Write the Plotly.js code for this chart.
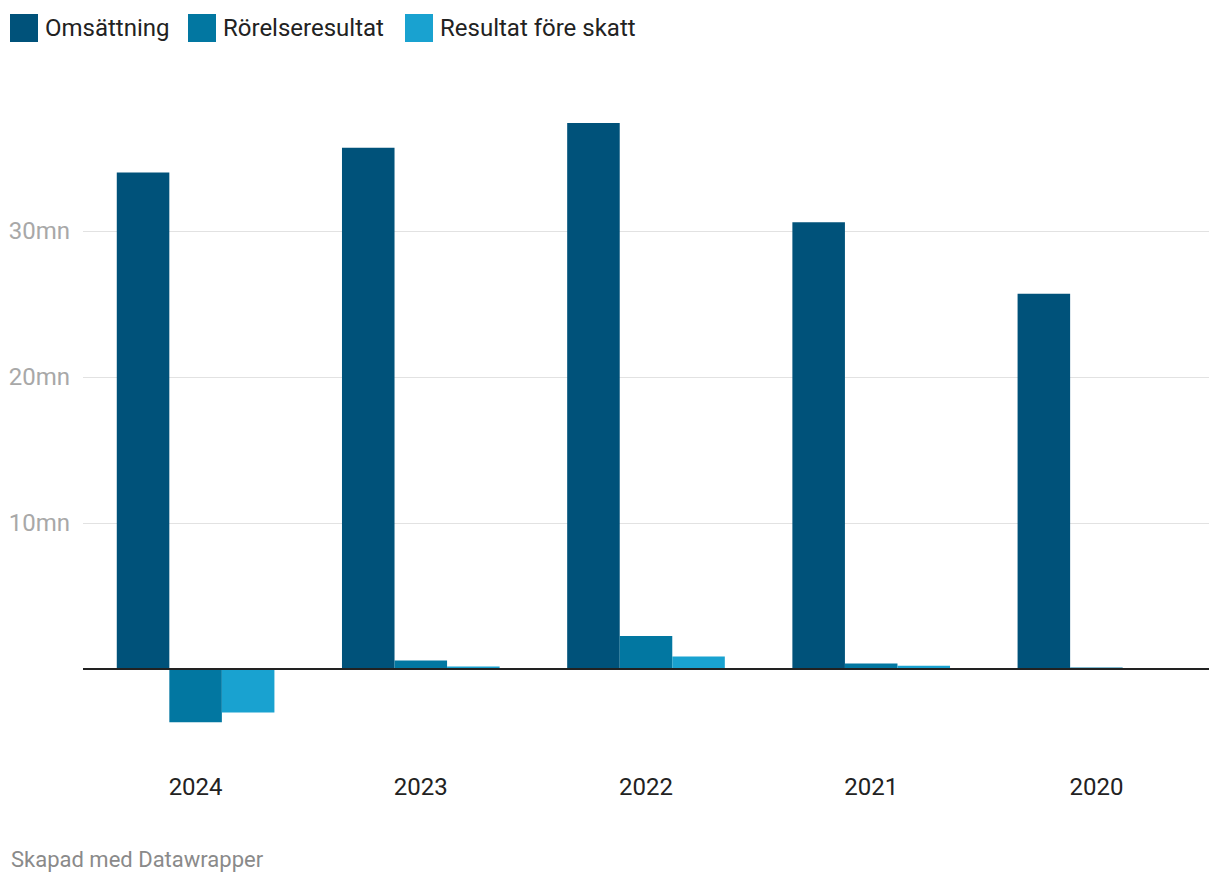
<!DOCTYPE html>
<html>
<head>
<meta charset="utf-8">
<script src="https://cdn.plot.ly/plotly-3.0.1.min.js"></script>
<style>
html,body{margin:0;padding:0;background:#fff;}
#chart{width:1220px;height:882px;}
</style>
</head>
<body>
<div id="chart"></div>
<script>
const years = ["2024", "2023", "2022", "2021", "2020"];
const seriesNames = ["Omsättning", "Rörelseresultat", "Resultat före skatt"];
const omsattning = [34.0, 35.7, 37.4, 30.6, 25.7];
const rorelseresultat = [-3.65, 0.58, 2.26, 0.37, 0.1];
const resultatForeSkatt = [-2.98, 0.17, 0.85, 0.23, 0.0];
const yTickVals = [10, 20, 30];
const yTickText = ["10mn", "20mn", "30mn"];
const footer = "Skapad med Datawrapper";

const colors = ["#00527a", "#0277a1", "#19a2d0"];
const seriesValues = [omsattning, rorelseresultat, resultatForeSkatt];

const traces = seriesNames.map((name, i) => ({
  type: "bar",
  name: name,
  x: years,
  y: seriesValues[i],
  marker: {color: colors[i], line: {width: 0}},
  hoverinfo: "x+y+name"
}));

const W = 1220, H = 882;
const mL = 83, mR = 11, mT = 80, mB = 142;
const pw = W - mL - mR, ph = H - mT - mB;
const px2x = p => (p - mL) / pw;
const py2y = p => 1 - (p - mT) / ph;

const legendSquares = [10, 188, 405];
const legendText = [45, 223, 440];
const shapes = [];
const annotations = [];
seriesNames.forEach((n, i) => {
  shapes.push({
    type: "rect", xref: "paper", yref: "paper",
    x0: px2x(legendSquares[i]), x1: px2x(legendSquares[i] + 28),
    y0: py2y(14), y1: py2y(42),
    fillcolor: colors[i], line: {width: 0}, layer: "above"
  });
  annotations.push({
    xref: "paper", yref: "paper",
    x: px2x(legendText[i] - 2), y: py2y(28),
    xanchor: "left", yanchor: "middle",
    text: n, showarrow: false,
    font: {family: "Roboto, sans-serif", size: 24, color: "#222"}
  });
});
shapes.push({
  type: "line", xref: "paper", yref: "y",
  x0: 0, x1: 1, y0: 0, y1: 0,
  line: {color: "#222", width: 2}, layer: "above"
});
annotations.push({
  xref: "paper", yref: "paper",
  x: px2x(9), y: py2y(859),
  xanchor: "left", yanchor: "middle",
  text: footer, showarrow: false,
  font: {family: "Roboto, sans-serif", size: 22, color: "#8a8a8a"}
});

const layout = {
  width: W, height: H,
  margin: {l: mL, r: mR, t: mT, b: mB, pad: 0},
  paper_bgcolor: "#fff", plot_bgcolor: "#fff",
  barmode: "group",
  bargap: 0.3,
  bargroupgap: 0,
  showlegend: false,
  font: {family: "Roboto, sans-serif"},
  xaxis: {
    type: "category",
    categoryorder: "array", categoryarray: years,
    showgrid: false, zeroline: false, showline: false,
    ticks: "", ticklabelstandoff: 30,
    tickfont: {family: "Roboto, sans-serif", size: 24, color: "#222"},
    fixedrange: true
  },
  yaxis: {
    range: [(669 - (mT + ph)) / 14.6, (669 - mT) / 14.6],
    tickvals: yTickVals, ticktext: yTickText,
    showgrid: true, gridcolor: "#e2e2e2", gridwidth: 1,
    zeroline: false, showline: false, ticks: "",
    ticklabelstandoff: 12,
    tickfont: {family: "Roboto, sans-serif", size: 24, color: "#a8a8a8"},
    fixedrange: true
  },
  shapes: shapes,
  annotations: annotations
};

Plotly.newPlot("chart", traces, layout, {displayModeBar: false, staticPlot: true});
</script>
</body>
</html>
